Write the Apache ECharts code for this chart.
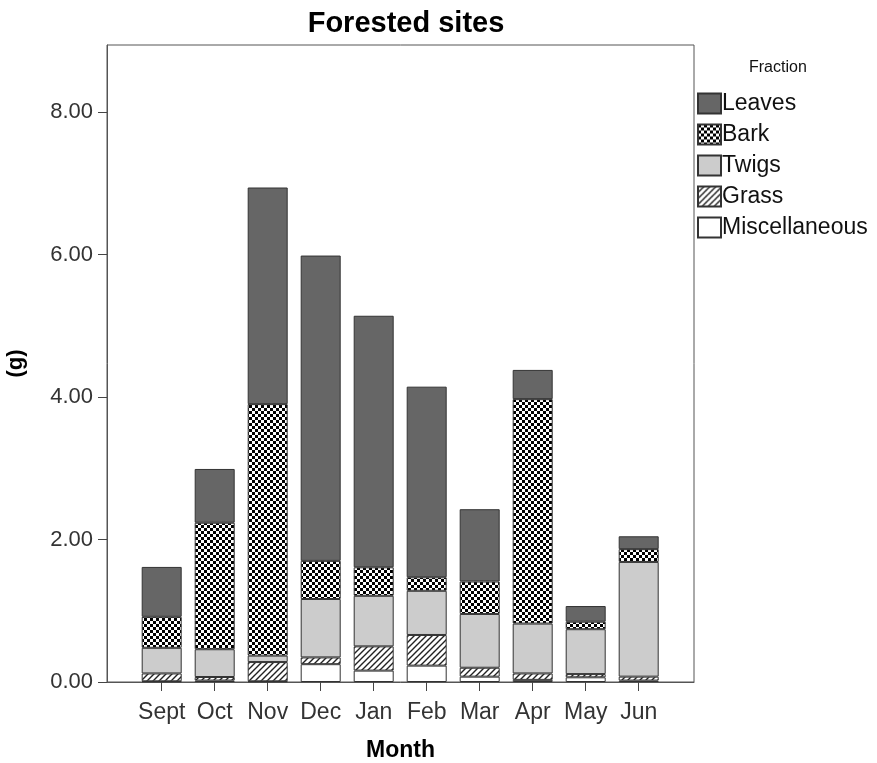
<!DOCTYPE html>
<html>
<head>
<meta charset="utf-8">
<script src="https://cdn.jsdelivr.net/npm/echarts@6/dist/echarts.min.js"></script>
<style>
  html, body { margin: 0; padding: 0; background: #fff; }
  #chart { width: 877px; height: 763px; }
</style>
</head>
<body>
<div id="chart"></div>
<script>
// Monthly litter mass by fraction (g), stacked bottom to top
const months = ['Sept', 'Oct', 'Nov', 'Dec', 'Jan', 'Feb', 'Mar', 'Apr', 'May', 'Jun'];
const miscellaneous = [0.01, 0.02, 0.01, 0.25, 0.16, 0.23, 0.075, 0.03, 0.066, 0.02];
const grass         = [0.11, 0.05, 0.27, 0.095, 0.34, 0.43, 0.125, 0.09, 0.045, 0.055];
const twigs         = [0.36, 0.39, 0.09, 0.82, 0.71, 0.62, 0.755, 0.70, 0.63, 1.61];
const bark          = [0.435, 1.775, 3.53, 0.535, 0.40, 0.19, 0.455, 3.15, 0.105, 0.18];
const leaves        = [0.70, 0.755, 3.04, 4.285, 3.53, 2.675, 1.015, 0.41, 0.22, 0.18];
const yTicks = [0, 2, 4, 6, 8];
const yMax = 8.94;

function checkerPattern() {
  const c = document.createElement('canvas');
  c.width = 6; c.height = 6;
  const g = c.getContext('2d');
  g.fillStyle = '#fff'; g.fillRect(0, 0, 6, 6);
  g.fillStyle = '#000';
  g.fillRect(0, 0, 3, 3);
  g.fillRect(3, 3, 3, 3);
  return { image: c, repeat: 'repeat' };
}

function hatchPattern() {
  const c = document.createElement('canvas');
  c.width = 6; c.height = 6;
  const g = c.getContext('2d');
  g.fillStyle = '#fff'; g.fillRect(0, 0, 6, 6);
  g.strokeStyle = '#222';
  g.lineWidth = 1.4;
  g.beginPath();
  g.moveTo(-1, 7); g.lineTo(7, -1);
  g.moveTo(-1, 1); g.lineTo(1, -1);
  g.moveTo(5, 7); g.lineTo(7, 5);
  g.stroke();
  return { image: c, repeat: 'repeat' };
}

const font = '"Liberation Sans", Arial, sans-serif';
const border = { borderColor: '#333', borderWidth: 1 };

function stackSeries(name, data, color) {
  return {
    name: name,
    type: 'bar',
    stack: 'total',
    xAxisIndex: 1,
    yAxisIndex: 1,
    barWidth: 40,
    data: data,
    itemStyle: Object.assign({ color: color }, border),
    emphasis: { disabled: true }
  };
}

const chart = echarts.init(document.getElementById('chart'), null, { renderer: 'canvas' });

chart.setOption({
  animation: false,
  backgroundColor: '#fff',
  graphic: [
    {
      type: 'text', x: 406, y: 9,
      style: { text: 'Forested sites', font: 'bold 29px ' + font, fill: '#000', textAlign: 'center' }
    },
    {
      type: 'text', x: 749, y: 60,
      style: { text: 'Fraction', font: '16px ' + font, fill: '#111' }
    }
  ],
  legend: {
    orient: 'vertical',
    left: 697,
    top: 92,
    padding: 0,
    icon: 'rect',
    itemWidth: 23,
    itemHeight: 20,
    itemGap: 8,
    selectedMode: false,
    data: ['Leaves', 'Bark', 'Twigs', 'Grass', 'Miscellaneous'],
    textStyle: { fontFamily: font, fontSize: 23, color: '#111', padding: [0, 0, 0, -4] }
  },
  grid: [
    { left: 107, top: 45, width: 587, height: 637, outerBoundsMode: 'none', containLabel: false,
      show: true, borderColor: '#555', borderWidth: 1, backgroundColor: 'transparent' },
    { left: 135.2, top: 45, width: 530, height: 637, outerBoundsMode: 'none', containLabel: false }
  ],
  xAxis: [
    {
      gridIndex: 0, type: 'category', data: months,
      axisLine: { show: true, lineStyle: { color: '#555' } },
      axisTick: { show: false }, axisLabel: { show: false },
      name: 'Month', nameLocation: 'middle', nameGap: 57,
      nameTextStyle: { fontFamily: font, fontSize: 23, fontWeight: 'bold', color: '#000' }
    },
    {
      gridIndex: 1, type: 'category', data: months,
      axisLine: { show: false },
      axisTick: { show: true, alignWithLabel: true, interval: 0, length: 9, lineStyle: { color: '#444' } },
      axisLabel: { interval: 0, margin: 19, fontFamily: font, fontSize: 23, color: '#333' }
    }
  ],
  yAxis: [
    {
      gridIndex: 0, type: 'value', min: 0, max: yMax,
      axisLine: { show: true, lineStyle: { color: '#555' } },
      splitLine: { show: false },
      axisTick: { show: true, length: 9, customValues: yTicks, lineStyle: { color: '#444' } },
      axisLabel: {
        customValues: yTicks, margin: 14, fontFamily: font, fontSize: 22, color: '#333',
        formatter: v => v.toFixed(2)
      },
      name: '(g)', nameLocation: 'middle', nameGap: 80, nameRotate: 90,
      nameTextStyle: { fontFamily: font, fontSize: 22, fontWeight: 'bold', color: '#000' }
    },
    {
      gridIndex: 1, type: 'value', min: 0, max: yMax, show: false,
      splitLine: { show: false }
    }
  ],
  series: [
    stackSeries('Miscellaneous', miscellaneous, '#ffffff'),
    stackSeries('Grass', grass, hatchPattern()),
    stackSeries('Twigs', twigs, '#cccccc'),
    stackSeries('Bark', bark, checkerPattern()),
    stackSeries('Leaves', leaves, '#666666')
  ]
});
</script>
</body>
</html>
